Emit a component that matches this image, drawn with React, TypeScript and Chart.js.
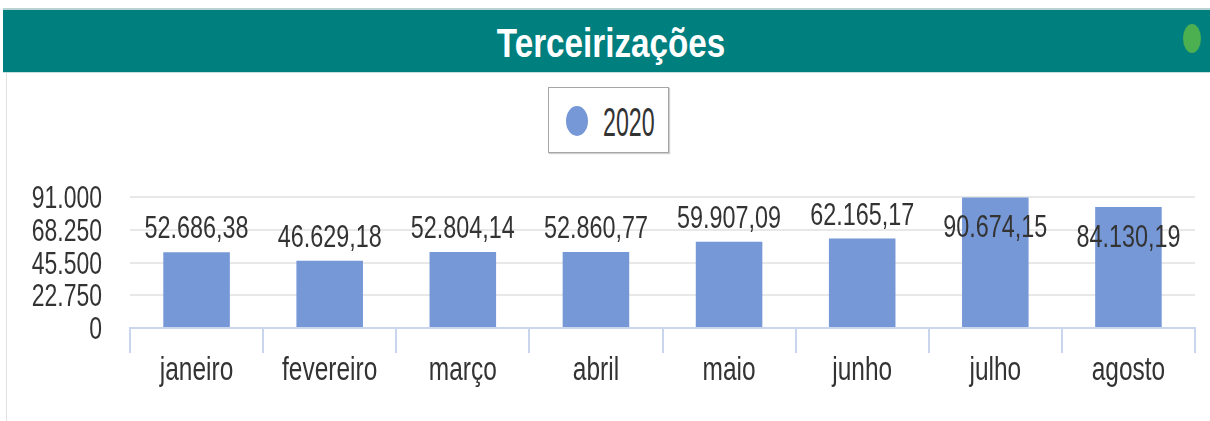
import React, { useEffect, useRef } from "react";
import { Chart, registerables } from "chart.js";

Chart.register(...registerables);

const categories = ["janeiro", "fevereiro", "março", "abril", "maio", "junho", "julho", "agosto"];
const values2020 = [52686.38, 46629.18, 52804.14, 52860.77, 59907.09, 62165.17, 90674.15, 84130.19];
const yTicks = [0, 22750, 45500, 68250, 91000];
const seriesName = "2020";

const FONT = "'Liberation Sans', Arial, sans-serif";
const BAR = "#7698d6";
const TXT = "#333333";

const fmtInt = (v: number) => v.toLocaleString("pt-BR", { maximumFractionDigits: 0 });
const fmtVal = (v: number) =>
  v.toLocaleString("pt-BR", { minimumFractionDigits: 2, maximumFractionDigits: 2 });

function drawScaled(ctx: CanvasRenderingContext2D, text: string, x: number, y: number, align: CanvasTextAlign, sx: number) {
  ctx.save();
  ctx.translate(x, y);
  ctx.scale(sx, 1);
  ctx.textAlign = align;
  ctx.fillText(text, 0, 0);
  ctx.restore();
}

const textPlugin = {
  id: "condensedText",
  afterDatasetsDraw(chart: any) {
    const { ctx, chartArea } = chart;
    const xs = chart.scales.x;
    const ys = chart.scales.y;
    ctx.save();
    ctx.fillStyle = TXT;
    ctx.textBaseline = "alphabetic";
    // data labels
    ctx.font = `32px ${FONT}`;
    const meta = chart.getDatasetMeta(0);
    meta.data.forEach((bar: any, i: number) => {
      const v = chart.data.datasets[0].data[i] as number;
      let y = bar.y - 14;
      if (y - 23 < chartArea.top) y = bar.y + 40;
      drawScaled(ctx, fmtVal(v), bar.x, y, "center", 0.73);
    });
    // y tick labels
    ctx.font = `31px ${FONT}`;
    ys.ticks.forEach((t: any) => {
      const py = ys.getPixelForValue(t.value);
      drawScaled(ctx, fmtInt(t.value), 102, py + 11, "right", 0.74);
    });
    // x tick labels
    ctx.font = `34px ${FONT}`;
    categories.forEach((c, i) => {
      const px = xs.getPixelForValue(i);
      drawScaled(ctx, c, px, xs.top + 52, "center", 0.72);
    });
    ctx.restore();
  },
};

export default function App() {
  const ref = useRef<HTMLCanvasElement>(null);
  useEffect(() => {
    const chart = new Chart(ref.current!, {
      type: "bar",
      data: {
        labels: categories,
        datasets: [
          {
            label: seriesName,
            data: values2020,
            backgroundColor: BAR,
            barPercentage: 0.5,
            categoryPercentage: 1,
          },
        ],
      },
      options: {
        animation: false,
        responsive: false,
        maintainAspectRatio: false,
        layout: { padding: { top: 27, right: 15, left: 0, bottom: 0 } },
        plugins: { legend: { display: false }, tooltip: { enabled: false }, title: { display: false } },
        scales: {
          x: {
            grid: {
              display: true,
              drawOnChartArea: false,
              drawTicks: true,
              tickLength: 25,
              color: "#c9d6ee",
              lineWidth: 2,
              offset: true,
            },
            border: { display: true, color: "#c9d6ee", width: 2 },
            ticks: { display: false },
            afterFit: (s: any) => {
              s.height = 93;
            },
          },
          y: {
            min: 0,
            max: 91000,
            afterBuildTicks: (s: any) => {
              s.ticks = yTicks.map((v) => ({ value: v }));
            },
            grid: { color: "#e8e8e8", lineWidth: 2, drawTicks: false },
            border: { display: false },
            ticks: { display: false, autoSkip: false },
            afterFit: (s: any) => {
              s.width = 130;
            },
          },
        },
      },
      plugins: [textPlugin],
    });
    return () => chart.destroy();
  }, []);

  return (
    <div style={{ position: "fixed", left: 0, top: 0, width: 1210, height: 421, background: "#fff", overflow: "hidden" }}>
      <div style={{ position: "absolute", left: 3, top: 8, width: 1207, height: 2, background: "#b9d3d3" }} />
      <div style={{ position: "absolute", left: 3, top: 10, width: 1207, height: 62, background: "#007f7f" }} />
      <span
        style={{
          position: "absolute",
          left: 611,
          top: 20,
          whiteSpace: "nowrap",
          color: "#fff",
          fontFamily: FONT,
          fontWeight: "bold",
          fontSize: 41,
          lineHeight: "normal",
          transform: "translateX(-50%) scaleX(0.81)",
        }}
      >
        Terceirizações
      </span>
      <div style={{ position: "absolute", left: 3, top: 72, width: 1207, height: 1, background: "#c8dede" }} />
      <div
        style={{
          position: "absolute",
          left: 1183,
          top: 24,
          width: 18,
          height: 29,
          borderRadius: "50%",
          background: "#4caf50",
        }}
      />
      <div style={{ position: "absolute", left: 6, top: 73, width: 1, height: 348, background: "#e2e2e2" }} />
      <div
        style={{
          position: "absolute",
          left: 548,
          top: 87,
          width: 119,
          height: 64,
          border: "1px solid #a6a6a6",
          boxShadow: "1px 1px 1px #d0d0d0",
          background: "#fff",
        }}
      />
      <div
        style={{
          position: "absolute",
          left: 566,
          top: 106,
          width: 22,
          height: 30,
          borderRadius: "50%",
          background: BAR,
        }}
      />
      <span
        style={{
          position: "absolute",
          left: 603,
          top: 100,
          whiteSpace: "nowrap",
          fontFamily: FONT,
          fontSize: 40,
          lineHeight: "normal",
          color: TXT,
          transform: "scaleX(0.58)",
          transformOrigin: "left top",
        }}
      >
        {seriesName}
      </span>
      <canvas ref={ref} width={1210} height={251} style={{ position: "absolute", left: 0, top: 170, width: 1210, height: 251 }} />
    </div>
  );
}
